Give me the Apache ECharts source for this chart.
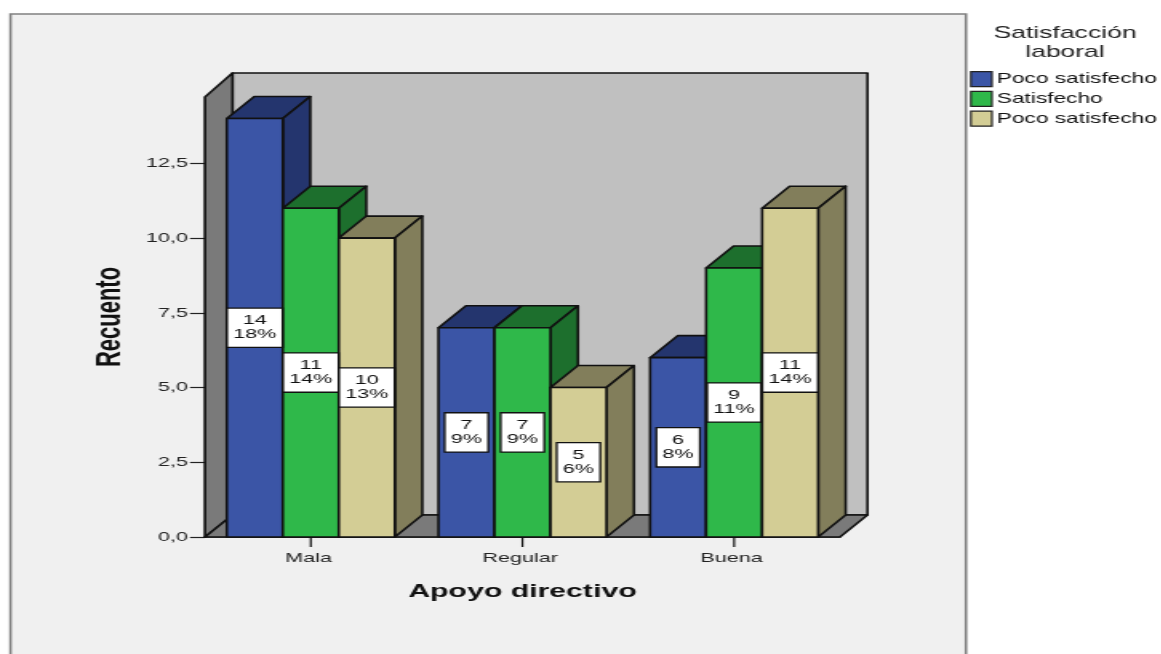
<!DOCTYPE html>
<html>
<head>
<meta charset="utf-8">
<title>Satisfacción laboral por apoyo directivo</title>
<script src="https://cdn.jsdelivr.net/npm/echarts@6/dist/echarts.min.js"></script>
<style>
  html, body { margin: 0; padding: 0; background: #ffffff; overflow: hidden; }
  /* The canvas is laid out narrow and widened, giving the broad lettering of this export */
  #chart { width: 725.625px; height: 654px; transform: scaleX(1.6); transform-origin: 0 0; }
</style>
</head>
<body>
<div id="chart"></div>
<script>
const categories = ['Mala', 'Regular', 'Buena'];
const seriesNames = ['Poco satisfecho', 'Satisfecho', 'Poco satisfecho'];
const countsFirst = [14, 7, 6];
const countsSecond = [11, 7, 9];
const countsThird = [10, 5, 11];
const percentFirst = [18, 9, 8];
const percentSecond = [14, 9, 11];
const percentThird = [13, 6, 14];
const yTicks = [0, 2.5, 5, 7.5, 10, 12.5];

const STRETCH = 1.6;
const sx = v => v / STRETCH;
const frontColors = ['#3b55a6', '#2fb84a', '#d3cd95'];
const sideColors = ['#24356e', '#1d6f2d', '#827e5b'];
const EDGE = '#111111';
const DEPTH_X = sx(27.5);
const DEPTH_Y = 22;
const BAR_SHARE = 0.2646;

const poly = (points, fill) => ({
  type: 'polygon',
  shape: { points },
  style: { fill, stroke: EDGE, lineWidth: 1.6, lineJoin: 'round' }
});

// Back wall, left wall and floor of the box behind the bars
function renderRoom(params) {
  const c = params.coordSys;
  const l = c.x, r = c.x + c.width, t = c.y, b = c.y + c.height;
  return {
    type: 'group',
    children: [
      poly([[l + DEPTH_X, t - DEPTH_Y - 2], [r + DEPTH_X, t - DEPTH_Y - 2], [r + DEPTH_X, b - DEPTH_Y], [l + DEPTH_X, b - DEPTH_Y]], '#c0c0c0'),
      poly([[l, t], [l + DEPTH_X, t - DEPTH_Y - 2], [l + DEPTH_X, b - DEPTH_Y], [l, b]], '#7a7a7a'),
      poly([[l, b], [l + DEPTH_X, b - DEPTH_Y], [r + DEPTH_X, b - DEPTH_Y], [r, b]], '#7a7a7a')
    ]
  };
}

// Short mark under the centre of each category
function renderCategoryTick(params, api) {
  const p = api.coord([api.value(0), 0]);
  return {
    type: 'line',
    shape: { x1: p[0], y1: p[1], x2: p[0], y2: p[1] + 10 },
    style: { stroke: '#111111', lineWidth: 1.2 }
  };
}

// One extruded bar with its count and percentage box
function makeBarRenderer(index, percents) {
  return function (params, api) {
    const cat = api.value(0);
    const val = api.value(1);
    const top = api.coord([cat, val]);
    const base = api.coord([cat, 0]);
    const w = api.size([1, 0])[0] * BAR_SHARE;
    const x0 = top[0] - 1.5 * w + index * w;
    const x1 = x0 + w;
    const yT = top[1], yB = base[1];
    return {
      type: 'group',
      children: [
        poly([[x0, yT], [x0 + DEPTH_X, yT - DEPTH_Y], [x1 + DEPTH_X, yT - DEPTH_Y], [x1, yT]], sideColors[index]),
        poly([[x1, yT], [x1 + DEPTH_X, yT - DEPTH_Y], [x1 + DEPTH_X, yB - DEPTH_Y], [x1, yB]], sideColors[index]),
        poly([[x0, yT], [x1, yT], [x1, yB], [x0, yB]], frontColors[index]),
        {
          type: 'text',
          z2: 10,
          style: {
            text: val + '\n' + percents[params.dataIndex] + '%',
            x: (x0 + x1) / 2,
            y: (yT + yB) / 2,
            align: 'center',
            verticalAlign: 'middle',
            fontFamily: 'Liberation Sans',
            fontSize: 13.5,
            lineHeight: 14,
            fill: '#111111',
            backgroundColor: '#ffffff',
            borderColor: '#111111',
            borderWidth: 1.3,
            padding: [5, 3.2, 5, 3.2]
          }
        }
      ]
    };
  };
}

const barColumns = [
  [countsFirst, percentFirst],
  [countsSecond, percentSecond],
  [countsThird, percentThird]
];

// The legend keys on series names, so the repeated label gets a distinct key
const legendKeys = ['serie-1', 'serie-2', 'serie-3'];

const barSeries = barColumns.map(([counts, percents], i) => ({
  type: 'custom',
  name: legendKeys[i],
  coordinateSystem: 'cartesian2d',
  z: 3,
  itemStyle: { color: frontColors[i] },
  encode: { x: 0, y: 1 },
  data: counts.map((v, c) => [c, v]),
  renderItem: makeBarRenderer(i, percents)
}));

const chart = echarts.init(document.getElementById('chart'));
chart.setOption({
  animation: false,
  backgroundColor: 'transparent',
  textStyle: { fontFamily: 'Liberation Sans' },
  graphic: [{
    type: 'rect',
    z: -1,
    silent: true,
    shape: { x: sx(10.5), y: 14, width: sx(955.5), height: 670 },
    style: { fill: '#f0f0f0', stroke: '#808080', lineWidth: 1.6 }
  }],
  title: {
    text: 'Satisfacción\nlaboral',
    left: sx(1065),
    top: 24,
    padding: 0,
    textAlign: 'center',
    textStyle: { fontFamily: 'Liberation Sans', fontSize: 16.6, fontWeight: 'normal', color: '#222222', lineHeight: 19 }
  },
  legend: {
    orient: 'vertical',
    left: sx(970),
    top: 71,
    padding: 0,
    itemWidth: sx(21),
    itemHeight: 15,
    itemGap: 3.6,
    selectedMode: false,
    textStyle: { fontFamily: 'Liberation Sans', fontSize: 14.2, color: '#111111', padding: [1, 0, 0, -2] },
    formatter: key => seriesNames[legendKeys.indexOf(key)],
    data: legendKeys.map((key, i) => ({
      name: key,
      icon: 'rect',
      itemStyle: { color: frontColors[i], borderColor: '#222222', borderWidth: 1.2 }
    }))
  },
  grid: { left: sx(205), top: 97, width: sx(635), height: 440 },
  xAxis: {
    type: 'category',
    data: categories,
    name: 'Apoyo directivo',
    nameLocation: 'middle',
    nameGap: 45,
    nameTextStyle: { fontFamily: 'Liberation Sans', fontSize: 18.9, fontWeight: 'bold', color: '#111111' },
    axisLine: { show: true, lineStyle: { color: '#222222', width: 1.5 } },
    axisTick: { show: false },
    axisLabel: { interval: 0, fontFamily: 'Liberation Sans', fontSize: 13.5, color: '#222222', margin: 14, padding: [0, 3, 0, 0] }
  },
  yAxis: {
    type: 'value',
    min: 0,
    max: 14.72,
    name: 'Recuento',
    nameLocation: 'middle',
    nameRotate: 90,
    nameGap: 43.5,
    nameTextStyle: { fontFamily: 'Liberation Sans', fontSize: 22, fontWeight: 'bold', color: '#111111' },
    splitLine: { show: false },
    axisLine: { show: true, lineStyle: { color: '#222222', width: 1.4 } },
    axisTick: { show: true, customValues: yTicks, length: sx(15), lineStyle: { color: '#222222', width: 1.2 } },
    axisLabel: {
      customValues: yTicks,
      fontFamily: 'Liberation Sans',
      fontSize: 13.5,
      color: '#222222',
      margin: sx(17),
      formatter: v => v.toFixed(1).replace('.', ',')
    }
  },
  series: [{
    type: 'custom',
    name: 'room',
    coordinateSystem: 'cartesian2d',
    z: 1,
    silent: true,
    encode: { x: 0, y: 1 },
    data: [[0, 0]],
    renderItem: renderRoom
  }, {
    type: 'custom',
    name: 'category-ticks',
    coordinateSystem: 'cartesian2d',
    z: 1,
    silent: true,
    encode: { x: 0, y: 1 },
    data: categories.map((_, i) => [i, 0]),
    renderItem: renderCategoryTick
  }].concat(barSeries)
});
</script>
</body>
</html>
